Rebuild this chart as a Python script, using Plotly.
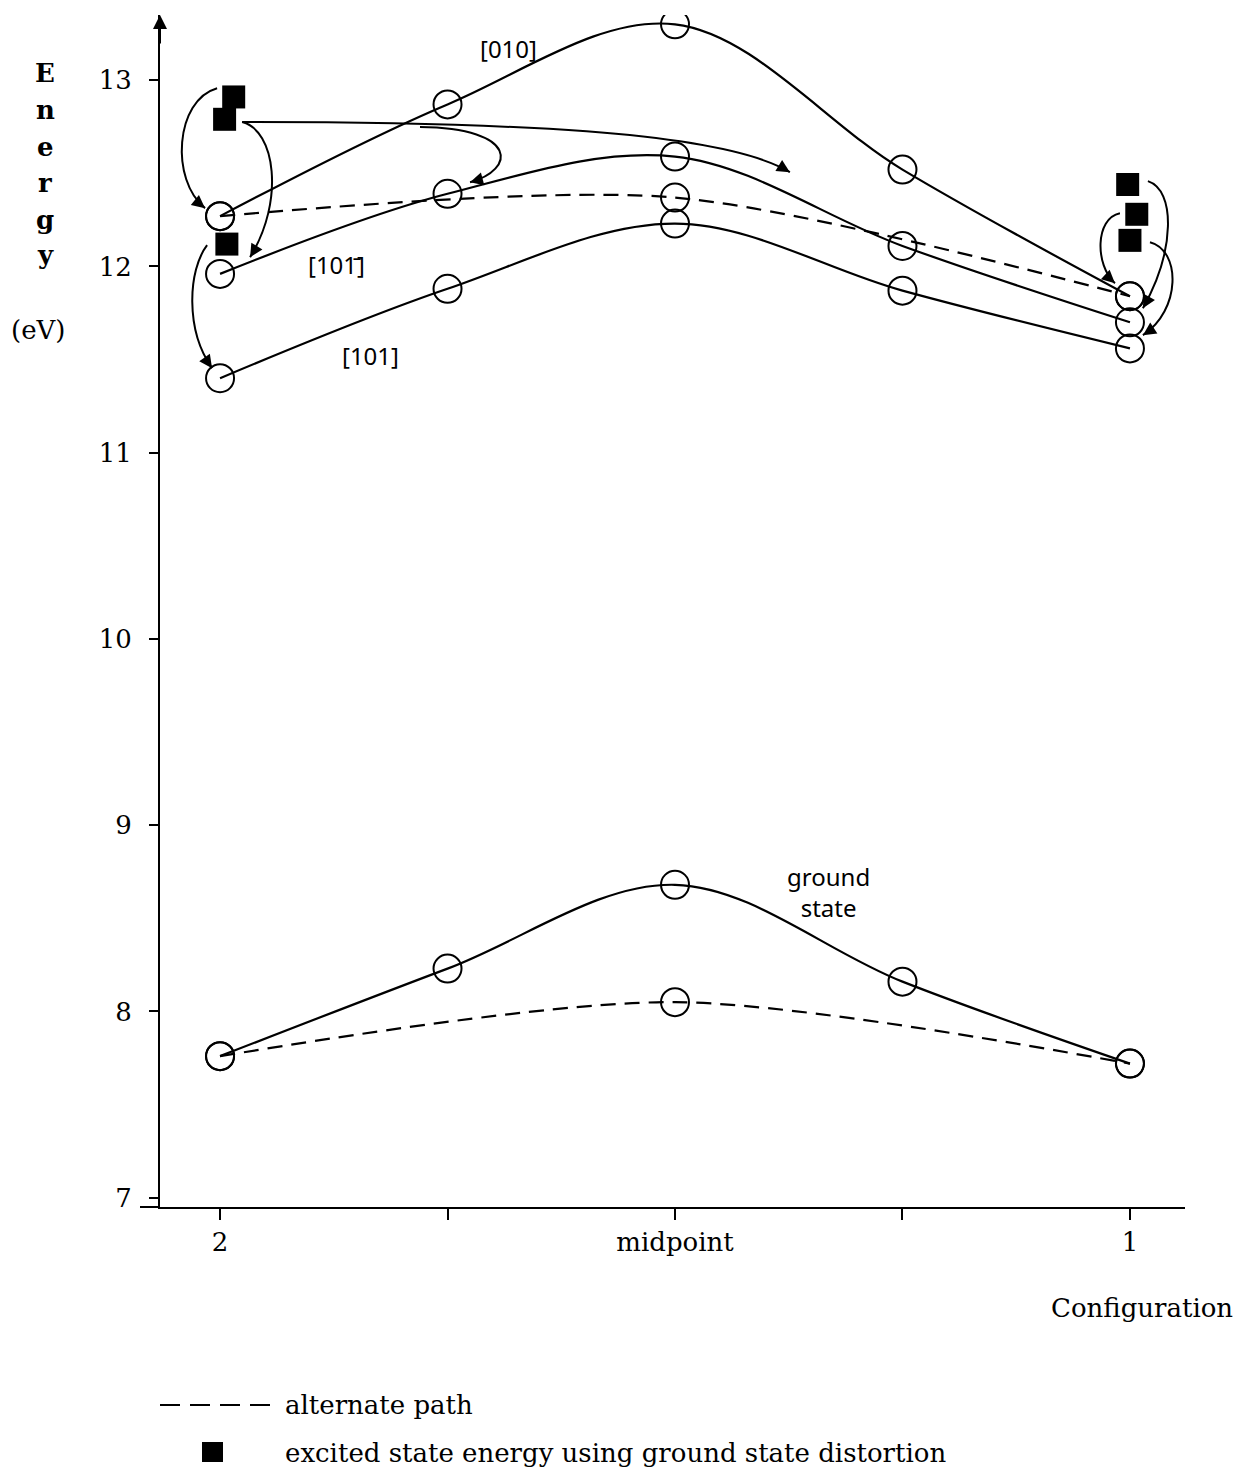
import math
import plotly.graph_objects as go

# ---------------- data ----------------
configs = [0, 1, 2, 3, 4]
config_labels = ["2", "", "midpoint", "", "1"]

e_010 = [12.27, 12.87, 13.30, 12.52, 11.84]
e_10bar1 = [11.96, 12.39, 12.59, 12.11, 11.70]
e_101 = [11.40, 11.88, 12.23, 11.87, 11.56]

alt_configs = [0, 2, 4]
e_excited_alt = [12.27, 12.37, 11.84]

ground = [7.76, 8.23, 8.68, 8.16, 7.72]
ground_alt = [7.76, 8.05, 7.72]

square_x = [0.06, 0.02, 0.03, 3.99, 4.03, 4.00]
square_y = [12.91, 12.79, 12.12, 12.44, 12.28, 12.14]

y_ticks = [7, 8, 9, 10, 11, 12, 13]

# curved arrows (cubic bezier: start, ctrl1, ctrl2, end) in data units
arrows = [
    [(-0.013, 12.957), (-0.198, 12.893), (-0.220, 12.463), (-0.066, 12.313)],
    [(0.097, 12.775), (0.242, 12.732), (0.286, 12.356), (0.132, 12.050)],
    [(-0.057, 12.114), (-0.141, 11.980), (-0.154, 11.658), (-0.035, 11.454)],
    [(0.097, 12.775), (1.231, 12.775), (2.198, 12.732), (2.505, 12.506)],
    [(0.879, 12.748), (1.319, 12.742), (1.297, 12.517), (1.099, 12.452)],
    [(4.079, 12.458), (4.200, 12.410), (4.200, 12.087), (4.057, 11.776)],
    [(3.956, 12.286), (3.846, 12.259), (3.846, 12.007), (3.934, 11.910)],
    [(4.088, 12.130), (4.225, 12.087), (4.225, 11.765), (4.057, 11.631)],
]

# ---------------- figure ----------------
W, H = 1242, 1473
OFF = 8  # page body margin
ML, MR, MT, MB = 160 - OFF, 65, 15 - OFF, 274
XR = [-0.264, 4.242]
YR = [6.95, 13.35]
PW = W - ML - MR
PH = H - MT - MB
px_per_x = PW / (XR[1] - XR[0])
px_per_y = PH / (YR[1] - YR[0])


def pxp(px):
    return (px - OFF - ML) / PW


def pyp(py):
    return (H - MB - (py - OFF)) / PH


fig = go.Figure()
LW = 2.2
circ = dict(symbol="circle-open", size=28, color="black", line=dict(width=2, color="black"))
dash = "15px,9px"

for ys in (e_010, e_10bar1, e_101, ground):
    fig.add_trace(go.Scatter(x=configs, y=ys, mode="lines+markers",
                             line=dict(color="black", width=LW, shape="spline", smoothing=1.0),
                             marker=circ, showlegend=False, hoverinfo="skip"))
for ys in (e_excited_alt, ground_alt):
    fig.add_trace(go.Scatter(x=alt_configs, y=ys, mode="lines+markers",
                             line=dict(color="black", width=LW, dash=dash, shape="spline", smoothing=0.8),
                             marker=circ, showlegend=False, hoverinfo="skip"))

fig.add_trace(go.Scatter(x=square_x, y=square_y, mode="markers",
                         marker=dict(symbol="square", size=23, color="black"),
                         showlegend=False, hoverinfo="skip"))

shapes = []
annotations = []
for (p0, p1, p2, p3) in arrows:
    path = "M {},{} C {},{} {},{} {},{}".format(p0[0], p0[1], p1[0], p1[1], p2[0], p2[1], p3[0], p3[1])
    shapes.append(dict(type="path", path=path, xref="x", yref="y",
                       line=dict(color="black", width=2)))
    dxp = (p3[0] - p2[0]) * px_per_x
    dyp = (p3[1] - p2[1]) * px_per_y
    n = math.hypot(dxp, dyp)
    back = 6.0
    tx = p3[0] - dxp / n * back / px_per_x
    ty = p3[1] - dyp / n * back / px_per_y
    annotations.append(dict(x=p3[0], y=p3[1], ax=tx, ay=ty, xref="x", yref="y",
                            axref="x", ayref="y", text="", showarrow=True,
                            arrowhead=2, arrowsize=1.3, arrowwidth=2, arrowcolor="black",
                            standoff=0, startstandoff=0))

hand = dict(family="Noto Sans, DejaVu Sans", size=24, color="black")
annotations += [
    dict(x=1.266, y=13.17, text="[010]", showarrow=False, font=hand),
    dict(x=0.514, y=12.01, text="[101\u0304]", showarrow=False, font=hand),
    dict(x=0.66, y=11.52, text="[101]", showarrow=False, font=hand),
    dict(x=2.675, y=8.64, text="ground<br>state", showarrow=False, font=hand, align="center"),
]

serif = dict(family="DejaVu Serif, Liberation Serif, serif", size=26, color="black")
letters = [("E", 13.04), ("n", 12.84), ("e", 12.64), ("r", 12.45), ("g", 12.25), ("y", 12.06)]
for ch, yy in letters:
    annotations.append(dict(x=pxp(45), y=yy, xref="paper", yref="y", xanchor="center",
                            yanchor="middle", text="<b>" + ch + "</b>", showarrow=False, font=serif))
annotations.append(dict(x=pxp(38), y=11.66, xref="paper", yref="y", xanchor="center",
                        yanchor="middle", text="(eV)", showarrow=False, font=serif))

annotations.append(dict(x=pxp(1142), y=pyp(1308), xref="paper", yref="paper",
                        xanchor="center", yanchor="middle",
                        text="Configuration", showarrow=False, font=serif))
# y-axis arrow tip
annotations.append(dict(x=0, y=1, xref="paper", yref="paper", ax=0, ay=30,
                        text="", showarrow=True, arrowhead=2, arrowsize=1.4,
                        arrowwidth=2, arrowcolor="black", standoff=0))
# legend
shapes.append(dict(type="line", xref="paper", yref="paper", x0=pxp(160), x1=pxp(278),
                   y0=pyp(1405), y1=pyp(1405), line=dict(color="black", width=2, dash="20px,10px")))
annotations.append(dict(x=pxp(283), y=pyp(1405), xref="paper", yref="paper", xanchor="left",
                        yanchor="middle", text="alternate path", showarrow=False, font=serif))
shapes.append(dict(type="rect", xref="paper", yref="paper", x0=pxp(202), x1=pxp(223),
                   y0=pyp(1462), y1=pyp(1442), fillcolor="black", line=dict(width=0)))
annotations.append(dict(x=pxp(283), y=pyp(1453), xref="paper", yref="paper", xanchor="left",
                        yanchor="middle",
                        text="excited state energy using ground state distortion",
                        showarrow=False, font=serif))
# x-axis extension left of the y axis
shapes.append(dict(type="line", xref="paper", yref="paper", x0=pxp(140), x1=0,
                   y0=0, y1=0, line=dict(color="black", width=2)))

fig.update_layout(
    width=W, height=H, autosize=False,
    margin=dict(l=ML, r=MR, t=MT, b=MB),
    paper_bgcolor="white", plot_bgcolor="white",
    shapes=shapes, annotations=annotations,
    xaxis=dict(range=XR, tickmode="array", tickvals=configs, ticktext=config_labels,
               showgrid=False, zeroline=False, showline=True, linecolor="black", linewidth=2,
               ticks="outside", ticklen=11, tickwidth=2, tickcolor="black",
               tickfont=serif, fixedrange=True),
    yaxis=dict(range=YR, tickmode="array", tickvals=y_ticks,
               showgrid=False, zeroline=False, showline=True, linecolor="black", linewidth=2,
               ticks="outside", ticklen=9, tickwidth=2, tickcolor="black",
               ticklabelstandoff=12,
               tickfont=serif, fixedrange=True),
)

fig.write_html("out.html")
